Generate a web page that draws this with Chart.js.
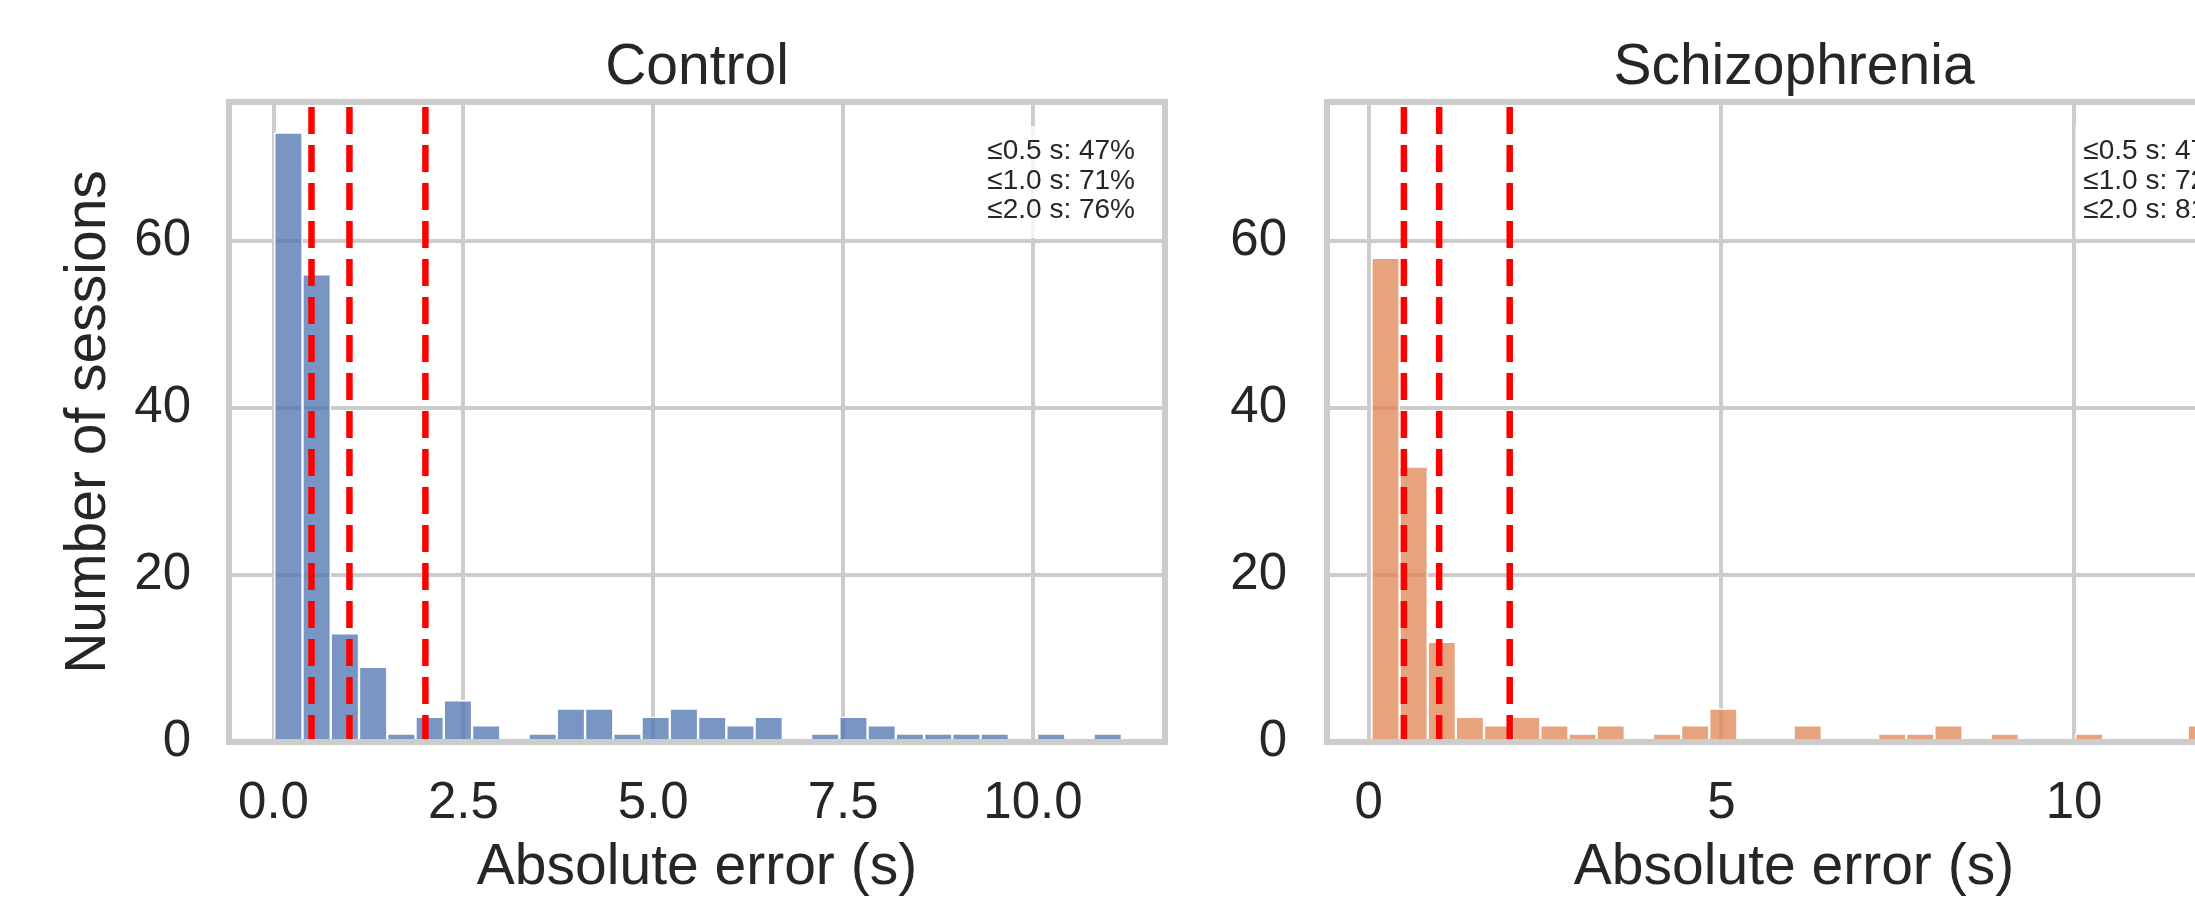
<!DOCTYPE html>
<html lang="en">
<head>
<meta charset="UTF-8">
<title>Absolute error - Control vs Schizophrenia</title>
<script src="https://cdn.jsdelivr.net/npm/chart.js"></script>
<style>
  html, body { margin: 0; padding: 0; background: #fff; overflow: hidden; }
  body { position: relative; width: 2195px; height: 897px; }
  .panel { position: absolute; top: 0; width: 1200px; height: 897px; }
  #leftPanel { left: 0; }
  #rightPanel { left: 1200px; }
</style>
</head>
<body>
<div id="leftPanel" class="panel"><canvas id="controlChart"></canvas></div>
<div id="rightPanel" class="panel"><canvas id="schizChart"></canvas></div>

<script>
// histogram counts, 30 bins each
const controlCounts = [73, 56, 13, 9, 1, 3, 5, 2, 0, 1, 4, 4, 1, 3, 4, 3, 2, 3, 0, 1, 3, 2, 1, 1, 1, 1, 0, 1, 0, 1];
const schizCounts   = [58, 33, 12, 3, 2, 3, 2, 1, 2, 0, 1, 2, 4, 0, 0, 2, 0, 0, 1, 1, 2, 0, 1, 0, 0, 1, 0, 0, 0, 2];

// bin layout (first edge, width)
const controlBins = { start: 0.01, width: 0.372 };
const schizBins   = { start: 0.04, width: 0.399 };

// threshold lines and the share of sessions under them
const thresholds  = [0.5, 1.0, 2.0];
const controlPct  = [47, 71, 76];
const schizPct    = [47, 72, 81];

// ticks
const yTicks = [0, 20, 40, 60];
const controlXTicks = [0, 2.5, 5, 7.5, 10];
const controlXLabels = ['0.0', '2.5', '5.0', '7.5', '10.0'];
const schizXTicks = [0, 5, 10];
const schizXLabels = ['0', '5', '10'];

const Y_MAX = 76.65;
const FONT = "'Liberation Sans', Arial, Helvetica, sans-serif";
const TEXT = '#262626';
const GRID = '#cccccc';

Chart.defaults.font.family = FONT;

function histData(bins, counts) {
    return counts.map((c, i) => ({ x: bins.start + bins.width * (i + 0.5), y: c }));
}

const framePlugin = {
    id: 'frame',
    afterDatasetsDraw(chart) {
        const { ctx, chartArea: a } = chart;
        ctx.save();
        ctx.strokeStyle = GRID;
        ctx.lineWidth = 6;
        ctx.strokeRect(a.left, a.top, a.right - a.left, a.bottom - a.top);
        ctx.restore();
    }
};

function statBox(pcts) {
    const lines = thresholds.map((t, i) => '\u2264' + t.toFixed(1) + ' s: ' + pcts[i] + '%');
    return {
        id: 'statBox',
        afterDraw(chart) {
            const { ctx, chartArea: a } = chart;
            ctx.save();
            ctx.font = '28px ' + FONT;
            const w = Math.max(...lines.map(l => ctx.measureText(l).width));
            const right = a.right - 30;
            ctx.fillStyle = 'rgba(255,255,255,0.8)';
            ctx.fillRect(right - w - 8, a.top + 24, w + 16, 112);
            ctx.fillStyle = TEXT;
            ctx.textAlign = 'right';
            ctx.textBaseline = 'alphabetic';
            lines.forEach((l, i) => ctx.fillText(l, right, a.top + 57 + i * 29.5));
            ctx.restore();
        }
    };
}

function buildChart(id, o) {
    const lineSets = thresholds.map(t => ({
        type: 'line',
        data: [{ x: t, y: 0 }, { x: t, y: Y_MAX }],
        borderColor: '#ff0000',
        borderWidth: 6.5,
        borderDash: [27, 11],
        pointRadius: 0,
        fill: false,
        order: 0
    }));

    return new Chart(document.getElementById(id), {
        type: 'bar',
        data: {
            datasets: lineSets.concat([{
                type: 'bar',
                data: histData(o.bins, o.counts),
                backgroundColor: o.color,
                borderColor: '#ffffff',
                borderWidth: 1.5,
                barPercentage: 1,
                categoryPercentage: 1,
                order: 1
            }])
        },
        options: {
            responsive: true,
            maintainAspectRatio: false,
            animation: false,
            events: [],
            layout: { padding: { top: 0, left: 0, bottom: 0, right: o.padRight } },
            plugins: {
                legend: { display: false },
                tooltip: { enabled: false },
                title: {
                    display: true,
                    text: o.title,
                    color: TEXT,
                    font: { size: 57, weight: 'normal', lineHeight: 1 },
                    padding: { top: 39.5, bottom: 5.5 },
                    fullSize: false
                }
            },
            scales: {
                x: {
                    type: 'linear',
                    min: o.xMin,
                    max: o.xMax,
                    offset: false,
                    afterFit(scale) { scale.height = 155; },
                    afterBuildTicks(scale) { scale.ticks = o.xTicks.map(v => ({ value: v })); },
                    ticks: {
                        autoSkip: false,
                        maxRotation: 0,
                        padding: 31,
                        color: TEXT,
                        font: { size: 51 },
                        callback: (v, i) => o.xLabels[i]
                    },
                    grid: { color: GRID, lineWidth: 4, drawTicks: false, offset: false },
                    border: { display: false },
                    title: {
                        display: true,
                        text: 'Absolute error (s)',
                        color: TEXT,
                        font: { size: 57, lineHeight: 1 },
                        padding: { top: 0, bottom: 0 }
                    }
                },
                y: {
                    min: 0,
                    max: Y_MAX,
                    afterFit(scale) { scale.width = o.yWidth; },
                    afterBuildTicks(scale) { scale.ticks = yTicks.map(v => ({ value: v })); },
                    ticks: {
                        padding: o.yPad,
                        color: TEXT,
                        font: { size: 51 }
                    },
                    grid: { color: GRID, lineWidth: 4, drawTicks: false },
                    border: { display: false },
                    title: {
                        display: o.yTitle,
                        text: 'Number of sessions',
                        color: TEXT,
                        font: { size: 57, lineHeight: 1 },
                        padding: { top: 60.5, bottom: 0 }
                    }
                }
            }
        },
        plugins: [framePlugin, statBox(o.pcts)]
    });
}

buildChart('controlChart', {
    title: 'Control',
    counts: controlCounts,
    bins: controlBins,
    pcts: controlPct,
    color: 'rgba(76, 114, 176, 0.75)',
    xMin: -0.586, xMax: 11.738,
    xTicks: controlXTicks, xLabels: controlXLabels,
    yWidth: 229, yPad: 38, yTitle: true,
    padRight: 35
});

buildChart('schizChart', {
    title: 'Schizophrenia',
    counts: schizCounts,
    bins: schizBins,
    pcts: schizPct,
    color: 'rgba(221, 132, 82, 0.75)',
    xMin: -0.59, xMax: 12.65,
    xTicks: schizXTicks, xLabels: schizXLabels,
    yWidth: 127, yPad: 40, yTitle: false,
    padRight: 139
});
</script>
</body>
</html>
